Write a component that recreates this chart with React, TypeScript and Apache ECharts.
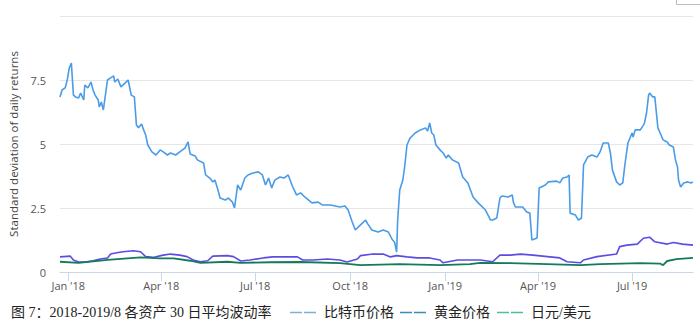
import React, { useEffect, useRef } from "react";
import * as echarts from "echarts";

// Bitcoin price volatility (30-day std of daily returns, %)
const btcDates = [
  "2017-12-24","2017-12-26","2017-12-29","2017-12-31","2018-01-02","2018-01-04","2018-01-06","2018-01-08",
  "2018-01-11","2018-01-13","2018-01-16","2018-01-17","2018-01-20","2018-01-23","2018-01-25","2018-01-27",
  "2018-01-30","2018-01-31","2018-02-02","2018-02-04","2018-02-08","2018-02-11","2018-02-14","2018-02-15",
  "2018-02-18","2018-02-21","2018-02-25","2018-02-28","2018-03-03","2018-03-06","2018-03-08","2018-03-10",
  "2018-03-13","2018-03-15","2018-03-17","2018-03-19","2018-03-23","2018-03-27","2018-03-31","2018-04-03",
  "2018-04-07","2018-04-10","2018-04-15","2018-04-19","2018-04-24","2018-04-27","2018-04-29","2018-05-04",
  "2018-05-06","2018-05-12","2018-05-14","2018-05-18","2018-05-21","2018-05-23","2018-05-26","2018-05-28",
  "2018-06-02","2018-06-05","2018-06-09","2018-06-11","2018-06-14","2018-06-17","2018-06-21","2018-06-24",
  "2018-06-29","2018-07-04","2018-07-08","2018-07-11","2018-07-14","2018-07-17","2018-07-20","2018-07-25",
  "2018-07-29","2018-08-02","2018-08-06","2018-08-10","2018-08-14","2018-08-18","2018-08-25","2018-08-31",
  "2018-09-04","2018-09-12","2018-09-21","2018-09-26","2018-09-29","2018-10-03","2018-10-06","2018-10-11",
  "2018-10-16","2018-10-18","2018-10-22","2018-10-28","2018-11-02","2018-11-07","2018-11-11","2018-11-13",
  "2018-11-15","2018-11-16","2018-11-18","2018-11-21","2018-11-23","2018-11-25","2018-11-28","2018-12-03",
  "2018-12-08","2018-12-13","2018-12-15","2018-12-17","2018-12-19","2018-12-21","2018-12-23","2018-12-27",
  "2018-12-30","2019-01-02","2019-01-04","2019-01-08","2019-01-14","2019-01-18","2019-01-23","2019-01-28",
  "2019-02-02","2019-02-09","2019-02-14","2019-02-16","2019-02-20","2019-02-23","2019-02-25","2019-03-03",
  "2019-03-07","2019-03-08","2019-03-10","2019-03-17","2019-03-21","2019-03-24","2019-03-26","2019-03-31",
  "2019-04-02","2019-04-08","2019-04-11","2019-04-19","2019-04-22","2019-04-25","2019-04-29","2019-05-01",
  "2019-05-02","2019-05-07","2019-05-10","2019-05-13","2019-05-15","2019-05-19","2019-05-23","2019-05-28",
  "2019-05-31","2019-06-03","2019-06-08","2019-06-10","2019-06-12","2019-06-16","2019-06-19","2019-06-22",
  "2019-06-24","2019-06-27","2019-07-01","2019-07-02","2019-07-04","2019-07-09","2019-07-12","2019-07-13",
  "2019-07-15","2019-07-17","2019-07-18","2019-07-21","2019-07-23","2019-07-26","2019-07-29","2019-07-31",
  "2019-08-04","2019-08-06","2019-08-10","2019-08-12","2019-08-14","2019-08-15","2019-08-17","2019-08-20",
  "2019-08-24","2019-08-27","2019-08-29"
];
const btcValues = [
  6.84,7.11,7.19,7.5,7.97,8.16,6.91,6.84,
  6.8,6.99,6.72,7.3,7.19,7.42,7.11,6.91,
  6.72,6.45,6.64,6.33,7.5,7.58,7.66,7.42,
  7.54,7.23,7.38,7.5,6.91,6.84,5.74,5.63,
  5.78,5.55,5.35,4.96,4.69,4.57,4.77,4.69,
  4.57,4.65,4.57,4.69,4.84,5.08,4.61,4.53,
  4.38,4.26,3.79,3.67,3.52,3.59,3.2,2.89,
  2.81,2.89,2.73,2.5,3.4,3.2,3.67,3.79,
  3.87,3.91,3.79,3.4,3.67,3.28,3.59,3.71,
  3.67,3.79,3.36,3.01,3.09,2.93,2.7,2.73,
  2.62,2.62,2.54,2.58,2.42,1.95,1.64,1.84,
  2.03,1.88,1.64,1.56,1.64,1.56,1.25,1.17,
  0.78,2.03,3.2,3.59,4.18,4.96,5.23,5.43,
  5.55,5.63,5.51,5.82,5.43,5.35,4.96,4.77,
  4.65,4.45,4.57,4.38,4.26,3.71,3.48,2.93,
  2.7,2.42,2.03,2.03,2.11,2.89,2.97,2.93,
  3.01,2.73,2.54,2.54,2.34,2.3,1.25,1.33,
  3.28,3.4,3.52,3.55,3.48,3.67,3.71,3.79,
  2.3,2.23,2.03,2.1,4.18,4.49,4.57,4.49,
  4.69,5.04,5.04,4.65,3.98,3.52,3.4,3.48,
  4.18,5.04,5.43,5.27,5.55,5.55,5.74,5.82,
  6.21,6.91,6.99,6.84,6.84,5.63,5.35,5.16,
  5.08,4.96,4.88,4.38,4.1,3.59,3.32,3.48,
  3.52,3.48,3.52
];

// Gold price volatility
const goldDates = [
  "2017-12-24","2018-01-03","2018-01-06","2018-01-11","2018-01-19","2018-01-25","2018-02-01","2018-02-08",
  "2018-02-11","2018-02-17","2018-02-23","2018-03-05","2018-03-12","2018-03-17","2018-03-24","2018-04-03",
  "2018-04-10","2018-04-19","2018-04-26","2018-05-02","2018-05-09","2018-05-16","2018-05-21","2018-06-04",
  "2018-06-10","2018-06-17","2018-06-26","2018-07-09","2018-07-18","2018-08-11","2018-08-16","2018-08-26",
  "2018-09-09","2018-09-21","2018-09-28","2018-10-08","2018-10-11","2018-10-23","2018-11-02","2018-11-09",
  "2018-11-15","2018-11-25","2018-12-05","2018-12-17","2018-12-27","2018-12-30","2019-01-13","2019-01-25",
  "2019-02-04","2019-02-16","2019-02-23","2019-03-05","2019-03-15","2019-03-27","2019-04-10","2019-04-22",
  "2019-04-29","2019-05-12","2019-05-15","2019-05-28","2019-06-16","2019-06-19","2019-06-26","2019-07-06",
  "2019-07-12","2019-07-18","2019-07-23","2019-08-04","2019-08-10","2019-08-19","2019-08-29"
];
const goldValues = [
  0.59,0.62,0.47,0.39,0.4,0.44,0.51,0.55,
  0.7,0.75,0.79,0.83,0.79,0.6,0.57,0.66,
  0.7,0.66,0.6,0.47,0.4,0.44,0.62,0.64,
  0.6,0.43,0.47,0.55,0.59,0.59,0.47,0.47,
  0.51,0.47,0.39,0.51,0.64,0.7,0.7,0.59,
  0.64,0.59,0.55,0.55,0.47,0.36,0.47,0.47,
  0.47,0.4,0.66,0.66,0.7,0.66,0.6,0.55,
  0.4,0.36,0.47,0.6,0.7,0.99,1.05,1.09,
  1.32,1.36,1.18,1.09,1.15,1.09,1.05
];

// JPY/USD volatility
const jpyDates = [
  "2017-12-24","2018-01-11","2018-02-08","2018-03-12","2018-03-31","2018-04-13","2018-04-29","2018-05-09",
  "2018-06-04","2018-06-17","2018-07-16","2018-08-14","2018-09-21","2018-10-11","2018-11-18","2018-12-27",
  "2019-01-25","2019-02-04","2019-03-05","2019-04-10","2019-05-12","2019-05-31","2019-07-09","2019-07-28",
  "2019-07-31","2019-08-04","2019-08-13","2019-08-29"
];
const jpyValues = [
  0.4,0.36,0.47,0.57,0.53,0.53,0.44,0.36,
  0.4,0.36,0.38,0.39,0.35,0.27,0.31,0.27,
  0.31,0.36,0.35,0.31,0.27,0.31,0.35,0.33,
  0.27,0.43,0.5,0.55
];

const tickDates = ["2018-01-01","2018-04-01","2018-07-01","2018-10-01","2019-01-01","2019-04-01","2019-07-01"];
const monthNames = ["Jan","Feb","Mar","Apr","May","Jun","Jul","Aug","Sep","Oct","Nov","Dec"];

const seriesNames = ["比特币价格", "黄金价格", "日元/美元"];
const caption = "图 7：2018-2019/8 各资产 30 日平均波动率";
const yTitle = "Standard deviation of daily returns";

const toTs = (s: string) => {
  const [y, m, d] = s.split("-").map(Number);
  return Date.UTC(y, m - 1, d);
};

export default function App() {
  const ref = useRef<HTMLDivElement>(null);
  useEffect(() => {
    document.body.style.margin = "0";
    if (!ref.current) return;
    const chart = echarts.init(ref.current, undefined, { renderer: "svg" });
    const mk = (dates: string[], vals: number[]) => dates.map((d, i) => [toTs(d), vals[i]]);
    const ticks = tickDates.map(toTs);
    const labelFont = "'Open Sans', 'Noto Sans', sans-serif";
    const serif = "'Liberation Serif', 'DejaVu Serif', 'Noto Sans CJK SC', serif";
    const legendItems = [
      { x1: 290, x2: 317, tx: 324, color: "#74b3da", name: seriesNames[0] },
      { x1: 400, x2: 427, tx: 434, color: "#3a8cba", name: seriesNames[1] },
      { x1: 497, x2: 524, tx: 531, color: "#52bf8e", name: seriesNames[2] },
    ];
    const graphics: any[] = [
      {
        type: "text",
        left: 11,
        top: 305,
        style: { text: caption, fontSize: 14, fontFamily: serif, fill: "#222" },
      },
      {
        type: "rect",
        shape: { x: 676.5, y: -10, width: 40, height: 14.5 },
        style: { fill: "none", stroke: "#bdbdbd", lineWidth: 1 },
      },
    ];
    legendItems.forEach((it) => {
      graphics.push({
        type: "line",
        shape: { x1: it.x1, y1: 312.5, x2: it.x2, y2: 312.5 },
        style: { stroke: it.color, lineWidth: 1.5, lineDash: [12, 2] },
      });
      graphics.push({
        type: "text",
        left: it.tx,
        top: 305,
        style: { text: it.name, fontSize: 14, fontFamily: serif, fill: "#222" },
      });
    });

    chart.setOption({
      animation: false,
      backgroundColor: "#ffffff",
      grid: { left: 60, right: 7, top: 16, bottom: 52, containLabel: false, outerBoundsMode: "none" },
      xAxis: {
        type: "value",
        min: toTs(btcDates[0]),
        max: toTs(btcDates[btcDates.length - 1]),
        splitLine: { show: false },
        axisLine: { show: true, lineStyle: { color: "#ccd6eb", width: 1 } },
        axisTick: { show: true, length: 9, lineStyle: { color: "#ccd6eb" }, customValues: ticks },
        axisLabel: {
          customValues: ticks,
          color: "#555",
          fontSize: 11,
          fontFamily: labelFont,
          margin: 8,
          formatter: (v: number) => {
            const d = new Date(v);
            return monthNames[d.getUTCMonth()] + " '" + String(d.getUTCFullYear()).slice(2);
          },
        },
      },
      yAxis: {
        type: "value",
        min: 0,
        max: 10,
        interval: 2.5,
        name: yTitle,
        nameLocation: "middle",
        nameGap: 38,
        nameRotate: 90,
        nameTextStyle: { color: "#444", fontSize: 11.5, fontFamily: labelFont },
        axisLine: { show: false },
        axisTick: { show: false },
        splitLine: { lineStyle: { color: "#e6e6e6", width: 1 } },
        axisLabel: {
          color: "#555",
          fontSize: 11,
          fontFamily: labelFont,
          margin: 14,
          padding: [0, 0, 8, 0],
          formatter: (v: number) => (v === 10 ? "" : String(v)),
        },
      },
      series: [
        {
          name: seriesNames[0],
          type: "line",
          symbol: "none",
          data: mk(btcDates, btcValues),
          lineStyle: { color: "#4a9be8", width: 1.6 },
          itemStyle: { color: "#4a9be8" },
        },
        {
          name: seriesNames[1],
          type: "line",
          symbol: "none",
          data: mk(goldDates, goldValues),
          lineStyle: { color: "#5b4de3", width: 1.6 },
          itemStyle: { color: "#5b4de3" },
        },
        {
          name: seriesNames[2],
          type: "line",
          symbol: "none",
          data: mk(jpyDates, jpyValues),
          lineStyle: { color: "#137a5c", width: 1.8 },
          itemStyle: { color: "#137a5c" },
        },
      ],
      graphic: graphics,
    });
    return () => chart.dispose();
  }, []);
  return <div ref={ref} style={{ width: 700, height: 324 }} />;
}
